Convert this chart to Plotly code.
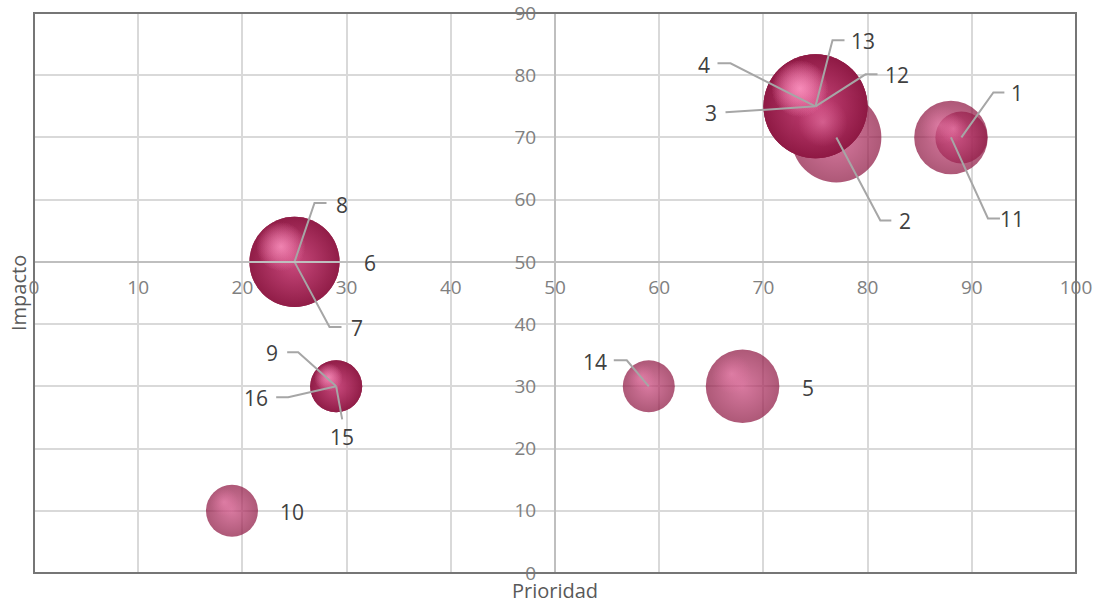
import plotly.graph_objects as go

# Issue matrix: priority (x), impact (y), bubble weight
etiquetas = ["1", "2", "3", "4", "5", "6", "7", "8",
             "9", "10", "11", "12", "13", "14", "15", "16"]
prioridad = [89, 77, 75, 75, 68, 25, 25, 25, 29, 19, 88, 75, 75, 59, 29, 29]
impacto = [70, 70, 75, 75, 30, 50, 50, 50, 30, 10, 70, 75, 75, 30, 30, 30]
peso = [1, 3, 4, 4, 2, 3, 3, 3, 1, 1, 2, 4, 4, 1, 1, 1]

x_ticks = list(range(0, 101, 10))
y_ticks = list(range(0, 91, 10))

# Label placement in screen pixels relative to each bubble centre:
# (text dx, text dy, leader elbow dx, dy, leader end dx, dy); None = no leader
label_layout = {
    "1": (56, -44, (32, -45), (43, -45)),
    "2": (69, 84, (44, 83), (55, 83)),
    "3": (-105, 7, (-77, 5), (-90, 6)),
    "4": (-112, -41, (-85, -43), (-98, -43)),
    "5": (65, 2, None, None),
    "6": (75, 1, None, None),
    "7": (62, 66, (35, 65), (47, 65)),
    "8": (47, -57, (20, -59), (32, -59)),
    "9": (-64, -33, (-38, -34), (-49, -34)),
    "10": (60, 1, None, None),
    "11": (61, 82, (37, 81), (49, 81)),
    "12": (81, -31, (50, -32), (62, -32)),
    "13": (47, -65, (17, -66), (29, -66)),
    "14": (-54, -24, (-22, -26), (-35, -26)),
    "15": (6, 51, (6, 33), (6, 33)),
    "16": (-80, 12, (-48, 11), (-60, 11)),
}

W, H = 1097, 603
M = dict(l=34, r=21, t=13, b=30)
X_RANGE = [0, 100]
Y_RANGE = [0, 90]
px_x = (W - M["l"] - M["r"]) / (X_RANGE[1] - X_RANGE[0])
px_y = (H - M["t"] - M["b"]) / (Y_RANGE[1] - Y_RANGE[0])

FONT = "Open Sans"
BASE = "#8e1843"
UNIT_DIAM = 52          # bubble diameter in px for weight 1
SIZEREF = 2 / UNIT_DIAM ** 2

fig = go.Figure()

# bubbles, semi-transparent so stacked points read darker
fig.add_trace(go.Scatter(
    x=prioridad, y=impacto, mode="markers", hoverinfo="text", text=etiquetas,
    marker=dict(
        size=peso, sizemode="area", sizeref=SIZEREF,
        color=BASE, opacity=0.72,
        gradient=dict(type="radial", color="#c8457a"),
        line=dict(width=0),
    ),
    showlegend=False,
))

# soft specular highlight toward the upper-left of each sphere
hx, hy = [], []
for xv, yv, s in zip(prioridad, impacto, peso):
    r = UNIT_DIAM * s ** 0.5 / 2
    hx.append(xv - 0.30 * r / px_x)
    hy.append(yv + 0.34 * r / px_y)
fig.add_trace(go.Scatter(
    x=hx, y=hy, mode="markers", hoverinfo="skip",
    marker=dict(
        size=peso, sizemode="area", sizeref=SIZEREF / 0.3,
        color="rgba(240,120,170,0)",
        gradient=dict(type="radial", color="rgba(255,150,195,0.6)"),
        line=dict(width=0),
    ),
    showlegend=False,
))

# leader lines
lx, ly = [], []
for lab, xv, yv in zip(etiquetas, prioridad, impacto):
    _, _, elbow, end = label_layout[lab]
    if elbow is None:
        continue
    lx += [xv, xv + elbow[0] / px_x, xv + end[0] / px_x, None]
    ly += [yv, yv - elbow[1] / px_y, yv - end[1] / px_y, None]
fig.add_trace(go.Scatter(
    x=lx, y=ly, mode="lines", hoverinfo="skip",
    line=dict(color="#a6a6a6", width=2),
    showlegend=False,
))

annotations = []
for lab, xv, yv in zip(etiquetas, prioridad, impacto):
    dx, dy, _, _ = label_layout[lab]
    annotations.append(dict(
        x=xv, y=yv, xref="x", yref="y", text=lab, showarrow=False,
        xshift=dx, yshift=-dy, xanchor="center", yanchor="middle",
        font=dict(family=FONT, size=21, color="#404040"),
    ))

annotations.append(dict(
    x=0.5, y=0, xref="paper", yref="paper", yshift=-17, text="Prioridad",
    xanchor="center", yanchor="middle",
    showarrow=False, font=dict(family=FONT, size=20, color="#595959"),
))
annotations.append(dict(
    x=0, y=0.5, xref="paper", yref="paper", xshift=-16, text="Impacto",
    xanchor="center", yanchor="middle",
    textangle=-90, showarrow=False,
    font=dict(family=FONT, size=20, color="#595959"),
))

fig.update_layout(
    width=W, height=H, margin=M,
    paper_bgcolor="white", plot_bgcolor="white",
    annotations=annotations,
    shapes=[dict(type="rect", xref="paper", yref="paper", x0=0, y0=0, x1=1, y1=1,
                 line=dict(color="#767676", width=2), layer="above")],
    xaxis=dict(
        range=X_RANGE, tickvals=x_ticks, anchor="free",
        position=(50 - Y_RANGE[0]) / (Y_RANGE[1] - Y_RANGE[0]),
        showgrid=True, gridcolor="#d9d9d9", gridwidth=2, zeroline=False,
        showline=True, linecolor="#bfbfbf", linewidth=2, ticks="",
        ticklabelstandoff=8, ticklabeloverflow="allow", automargin=False,
        tickfont=dict(family=FONT, size=19, color="#808080"),
    ),
    yaxis=dict(
        range=Y_RANGE, tickvals=y_ticks, anchor="free",
        position=(50 - X_RANGE[0]) / (X_RANGE[1] - X_RANGE[0]),
        showgrid=True, gridcolor="#d9d9d9", gridwidth=2, zeroline=False,
        showline=True, linecolor="#bfbfbf", linewidth=2, ticks="",
        ticklabelstandoff=14, ticklabeloverflow="allow", automargin=False,
        tickfont=dict(family=FONT, size=19, color="#808080"),
    ),
)

fig.write_html("out.html")
